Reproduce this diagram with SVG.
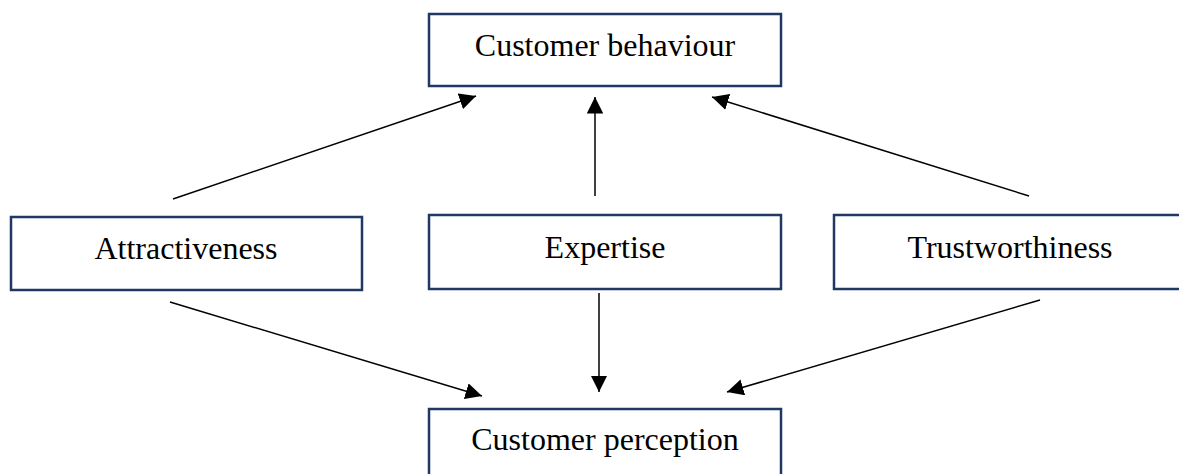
<svg xmlns="http://www.w3.org/2000/svg" width="1179" height="474" viewBox="0 0 1179 474">
  <style>
    .box { fill: #ffffff; stroke: #1f3864; stroke-width: 2.5; }
    .label { font-family: "Liberation Serif", "Times New Roman", serif; font-size: 32px; fill: #000000; text-anchor: middle; }
    .conn { stroke: #000000; stroke-width: 1.5; fill: none; marker-end: url(#arrow); }
  </style>
  <defs>
    <marker id="arrow" markerWidth="11" markerHeight="11" refX="10" refY="5" orient="auto" markerUnits="strokeWidth" viewBox="0 0 10 10">
      <path d="M0,0 L10,5 L0,10 Z" fill="#000000"/>
    </marker>
  </defs>
  <rect width="1179" height="474" fill="#ffffff"/>

  <g id="customer-behaviour">
    <rect class="box" x="429" y="14" width="352" height="72"/>
    <text class="label" x="605" y="56">Customer behaviour</text>
  </g>
  <g id="attractiveness">
    <rect class="box" x="11" y="217" width="351" height="73"/>
    <text class="label" x="186" y="259">Attractiveness</text>
  </g>
  <g id="expertise">
    <rect class="box" x="429" y="215" width="352" height="74"/>
    <text class="label" x="605" y="258">Expertise</text>
  </g>
  <g id="trustworthiness">
    <rect class="box" x="834" y="215" width="352" height="74"/>
    <text class="label" x="1010" y="258">Trustworthiness</text>
  </g>
  <g id="customer-perception">
    <rect class="box" x="429" y="409" width="352" height="74"/>
    <text class="label" x="605" y="450">Customer perception</text>
  </g>

  <g id="connectors">
    <line class="conn" x1="173" y1="199" x2="476" y2="96"/>
    <line class="conn" x1="595" y1="196" x2="595" y2="97"/>
    <line class="conn" x1="1029" y1="196" x2="712" y2="97"/>
    <line class="conn" x1="170" y1="302" x2="482" y2="396"/>
    <line class="conn" x1="599" y1="293" x2="599" y2="392"/>
    <line class="conn" x1="1040" y1="300" x2="727" y2="392"/>
  </g>
</svg>
